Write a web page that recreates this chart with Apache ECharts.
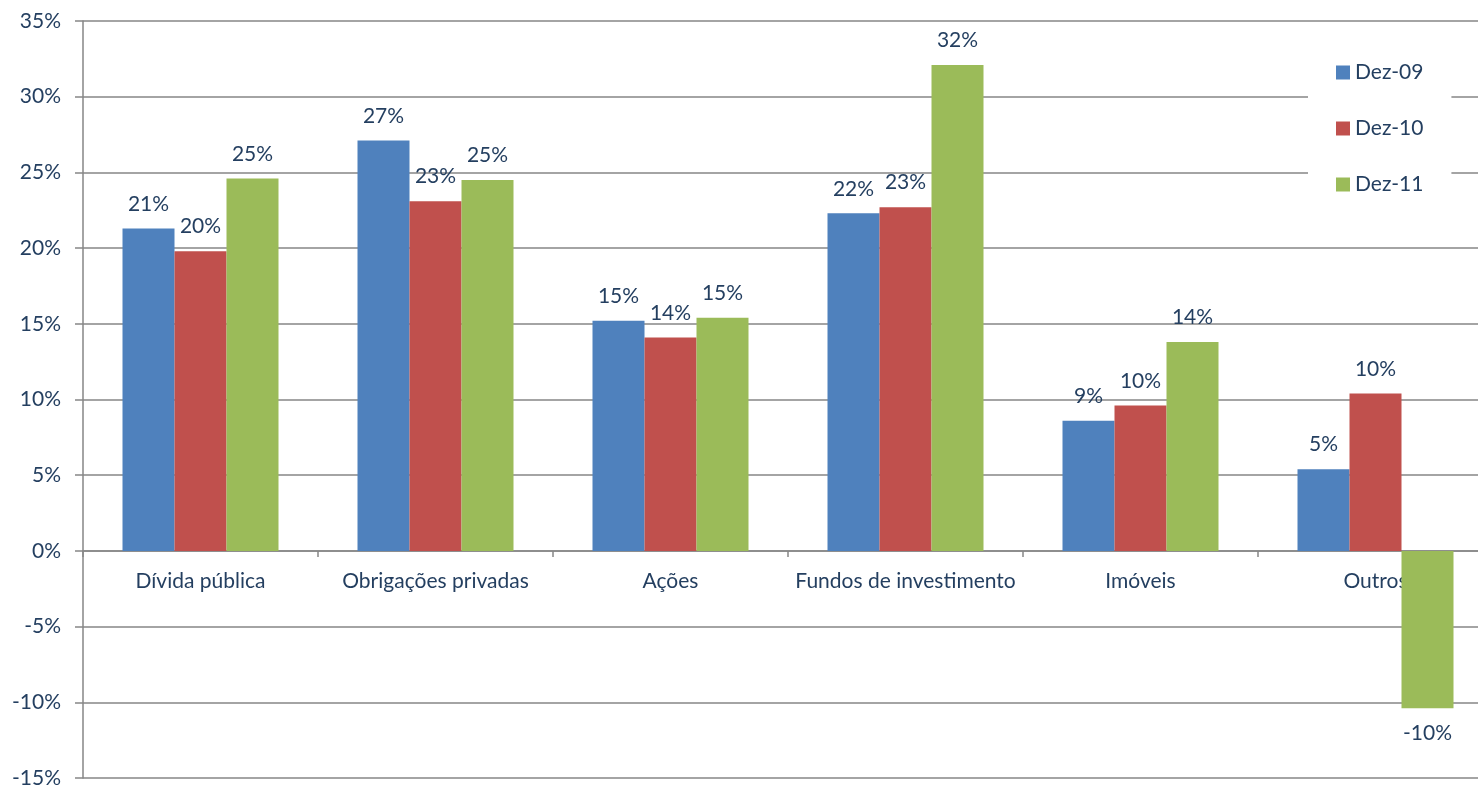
<!DOCTYPE html>
<html>
<head>
<meta charset="utf-8">
<script src="https://cdn.jsdelivr.net/npm/echarts@6/dist/echarts.min.js"></script>
<style>
  html, body { margin: 0; padding: 0; background: #fff; }
  #chart { width: 1478px; height: 786px; }
</style>
</head>
<body>
<div id="chart"></div>
<script>
// categorias e valores (%)
const categories = ['Dívida pública', 'Obrigações privadas', 'Ações', 'Fundos de investimento', 'Imóveis', 'Outros']
const seriesNames = ['Dez-09', 'Dez-10', 'Dez-11']
const dez09 = [21.3, 27.1, 15.2, 22.3, 8.6, 5.4]
const dez10 = [19.8, 23.1, 14.1, 22.7, 9.6, 10.4]
const dez11 = [24.6, 24.5, 15.4, 32.1, 13.8, -10.4]
const colors = ['#4f81bd', '#c0504d', '#9bbb59']
const yMin = -15
const yMax = 35

const textColor = '#243f60'
const lineColor = '#868686'
const font = 'Lato, "Open Sans", sans-serif'

const gridTop = 21
const gridBottom = 8
const chartH = 786
// eixo das categorias desenhado na linha do zero
const plotH = chartH - gridTop - gridBottom
const zeroOffset = -(plotH * (0 - yMin) / (yMax - yMin))

const makeSeries = (name, values, color) => ({
  name,
  type: 'bar',
  barWidth: 52,
  barGap: '0%',
  itemStyle: { color },
  data: values.map(v => ({
    value: v,
    label: { position: v < 0 ? 'bottom' : 'top' }
  })),
  label: {
    show: true,
    distance: 14,
    color: textColor,
    fontFamily: font,
    fontSize: 21,
    formatter: p => Math.round(p.value) + '%'
  }
})

const chart = echarts.init(document.getElementById('chart'))
chart.setOption({
  animation: false,
  // a área do gráfico ultrapassa a margem direita (recortada no original)
  grid: { left: 83, right: -15, top: gridTop, bottom: gridBottom, outerBoundsMode: 'none', containLabel: false },
  legend: {
    data: seriesNames,
    orient: 'vertical',
    left: 1308,
    top: 48,
    padding: [14, 28, 14, 28],
    backgroundColor: '#fff',
    itemWidth: 14,
    itemHeight: 14,
    itemGap: 35,
    icon: 'rect',
    z: 10,
    textStyle: { color: textColor, fontFamily: font, fontSize: 21 }
  },
  xAxis: {
    type: 'category',
    data: categories,
    position: 'bottom',
    offset: zeroOffset,
    axisLine: { onZero: false, lineStyle: { color: lineColor, width: 1.5 } },
    axisTick: { show: true, length: 6, lineStyle: { color: lineColor, width: 1.5 } },
    axisLabel: { color: textColor, fontFamily: font, fontSize: 21, margin: 20, interval: 0 }
  },
  yAxis: {
    type: 'value',
    min: yMin,
    max: yMax,
    interval: 5,
    axisLine: { show: true, lineStyle: { color: lineColor, width: 1.5 } },
    axisTick: { show: true, length: 8, lineStyle: { color: lineColor, width: 1.5 } },
    splitLine: { lineStyle: { color: lineColor, width: 1.5 } },
    axisLabel: { color: textColor, fontFamily: font, fontSize: 21, margin: 22, formatter: '{value}%' }
  },
  series: [
    makeSeries(seriesNames[0], dez09, colors[0]),
    makeSeries(seriesNames[1], dez10, colors[1]),
    makeSeries(seriesNames[2], dez11, colors[2])
  ]
})
</script>
</body>
</html>
